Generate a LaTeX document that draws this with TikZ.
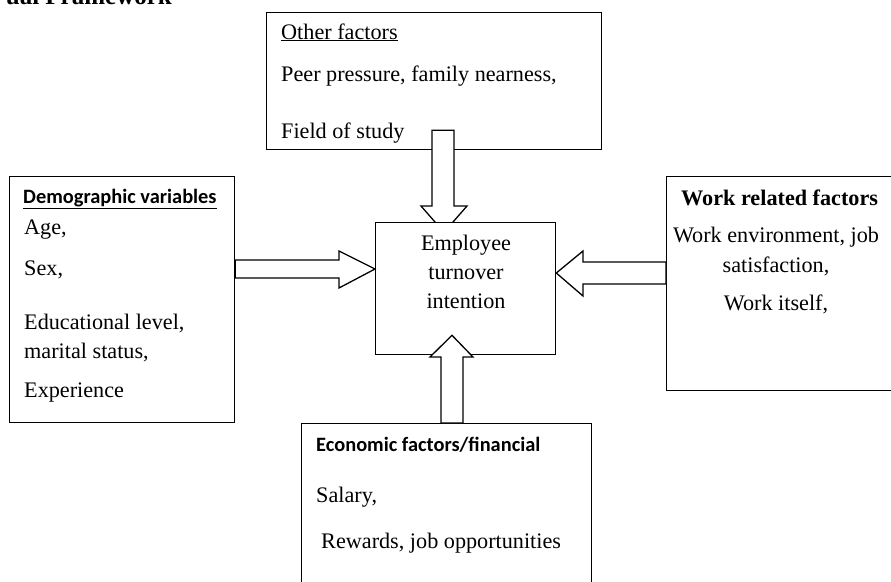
\documentclass[tikz,border=0pt]{standalone}
\usepackage{fontspec}
\setmainfont{Liberation Serif}
\newfontfamily\calfont{Carlito}
\usetikzlibrary{calc}
\newcommand{\bodyfs}{\fontsize{22.2}{28}\selectfont}
\begin{document}
\begin{tikzpicture}[x=1pt,y=-1pt,
  box/.style={draw=black,line width=1.3pt,fill=white,rectangle,inner sep=0pt},
  blockarrow/.style={draw=black,line width=1.3pt,fill=white,line join=miter},
  txt/.style={inner sep=0pt,anchor=base west,font=\bodyfs},
  ctxt/.style={inner sep=0pt,anchor=base,font=\bodyfs}]
\useasboundingbox (0,0) rectangle (891,581);
\clip (0,0) rectangle (891,581);
\fill[white] (0,0) rectangle (891,581);

% title (cropped)
\node[inner sep=0pt,anchor=base east,font=\fontsize{25}{30}\selectfont\bfseries] (title) at (172,4) {ual Framework};

% boxes
\node[box,anchor=north west,minimum width=335pt,minimum height=137pt] (other) at (266,12) {};
\node[box,anchor=north west,minimum width=225pt,minimum height=246pt] (demo) at (9,176) {};
\node[box,anchor=north west,minimum width=240pt,minimum height=214pt] (work) at (666,176) {};
\node[box,anchor=north west,minimum width=290pt,minimum height=180pt] (econ) at (301,423) {};

% top arrow (drawn over other box, under center box)
\draw[blockarrow] ($(other.south -| 432,0)+(0,-20)$) -- (432,206) -- (421,206) -- ($(other.south -| 444,0)+(0,82)$) -- (467,206) -- (454,206) -- ($(other.south -| 454,0)+(0,-20)$) -- cycle;

\node[box,anchor=north west,minimum width=180pt,minimum height=132pt] (center) at (375,222) {};

% bottom arrow
\draw[blockarrow] (econ.north -| 441,0) -- (441,357) -- (430,357) -- ($(center.south -| 452,0)+(0,-20)$) -- (473,357) -- (463,357) -- (econ.north -| 463,0) -- cycle;

% left arrow
\draw[blockarrow] (demo.east |- 0,260) -- (339,260) -- (339,251) -- (center.west |- 0,269) -- (339,288) -- (339,278) -- (demo.east |- 0,278) -- cycle;

% right arrow
\draw[blockarrow] (work.west |- 0,262) -- (583,262) -- (583,251) -- (center.east |- 0,273) -- (583,296) -- (583,284) -- (work.west |- 0,284) -- cycle;

% texts: other factors
\node[txt] (o1) at (281,39) {\underline{Other factors}};
\node[txt] (o2) at (281,81) {Peer pressure, family nearness,};
\node[txt] (o3) at (281,138) {Field of study};

% demographic
\node[txt,font=\calfont\fontsize{20.4}{26}\selectfont\bfseries] (d1) at (23,203) {\underline{Demographic variables}};
\node[txt] (d2) at (24,234) {Age,};
\node[txt] (d3) at (24,275) {Sex,};
\node[txt] (d4) at (24,329) {Educational level,};
\node[txt] (d5) at (24,358) {marital status,};
\node[txt] (d6) at (24,397) {Experience};

% center
\node[ctxt] (c1) at (466,250) {Employee};
\node[ctxt] (c2) at (466,279) {turnover};
\node[ctxt] (c3) at (466,308) {intention};

% work related
\node[txt,font=\bodyfs\bfseries] (w1) at (681,205) {Work related factors};
\node[ctxt] (w2) at (776,242) {Work environment, job};
\node[ctxt] (w3) at (776,272) {satisfaction,};
\node[ctxt] (w4) at (776,310) {Work itself,};

% economic
\node[txt,font=\calfont\fontsize{20.4}{26}\selectfont\bfseries] (e1) at (316,451) {Economic factors/financial};
\node[txt] (e2) at (316,502) {Salary,};
\node[txt] (e3) at (321,548) {Rewards, job opportunities};
\end{tikzpicture}
\end{document}
